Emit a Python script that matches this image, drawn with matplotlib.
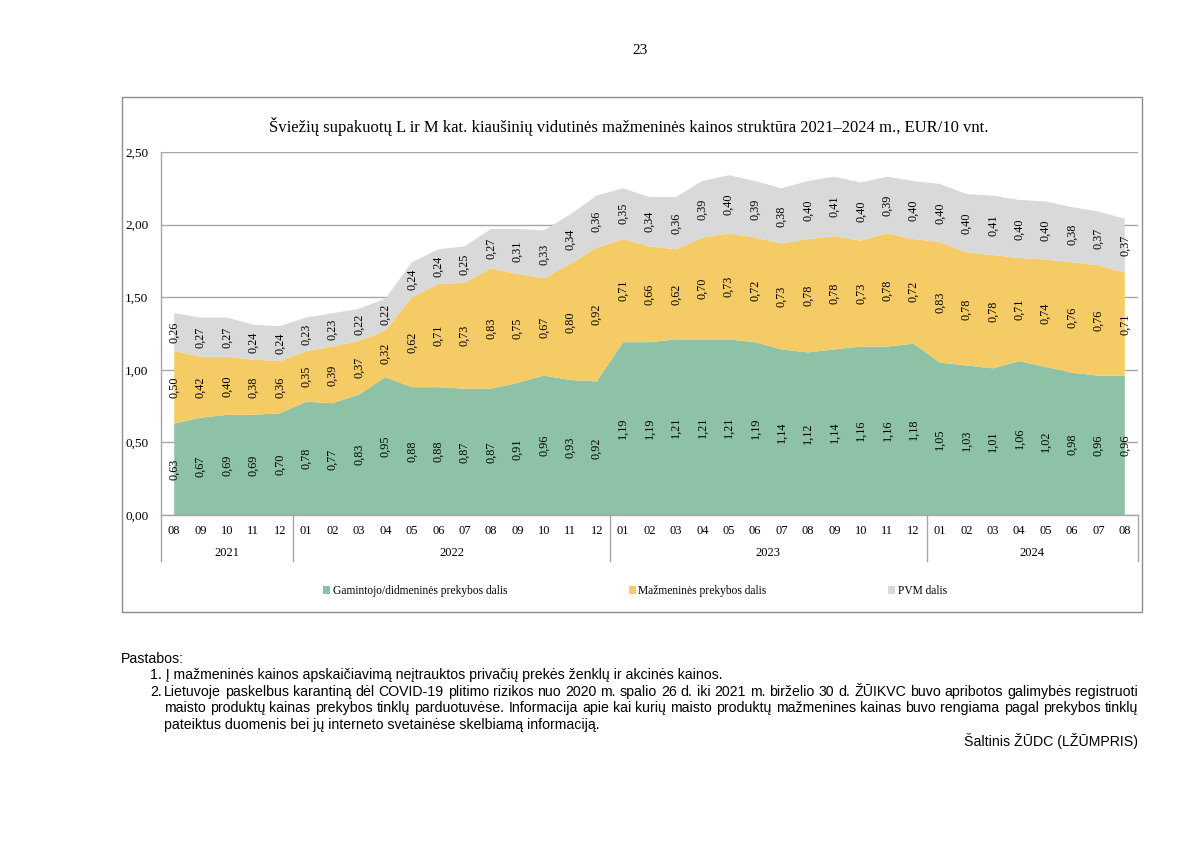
import matplotlib.pyplot as plt
from matplotlib.patches import Rectangle
from matplotlib.lines import Line2D
import numpy as np

# data
months = ['08', '09', '10', '11', '12',
          '01', '02', '03', '04', '05', '06', '07', '08', '09', '10', '11', '12',
          '01', '02', '03', '04', '05', '06', '07', '08', '09', '10', '11', '12',
          '01', '02', '03', '04', '05', '06', '07', '08']
years = ['2021', '2022', '2023', '2024']
year_len = [5, 12, 12, 8]

gamintojo = [0.63, 0.67, 0.69, 0.69, 0.70,
             0.78, 0.77, 0.83, 0.95, 0.88, 0.88, 0.87, 0.87, 0.91, 0.96, 0.93, 0.92,
             1.19, 1.19, 1.21, 1.21, 1.21, 1.19, 1.14, 1.12, 1.14, 1.16, 1.16, 1.18,
             1.05, 1.03, 1.01, 1.06, 1.02, 0.98, 0.96, 0.96]
mazmenines = [0.50, 0.42, 0.40, 0.38, 0.36,
              0.35, 0.39, 0.37, 0.32, 0.62, 0.71, 0.73, 0.83, 0.75, 0.67, 0.80, 0.92,
              0.71, 0.66, 0.62, 0.70, 0.73, 0.72, 0.73, 0.78, 0.78, 0.73, 0.78, 0.72,
              0.83, 0.78, 0.78, 0.71, 0.74, 0.76, 0.76, 0.71]
pvm = [0.26, 0.27, 0.27, 0.24, 0.24,
       0.23, 0.23, 0.22, 0.22, 0.24, 0.24, 0.25, 0.27, 0.31, 0.33, 0.34, 0.36,
       0.35, 0.34, 0.36, 0.39, 0.40, 0.39, 0.38, 0.40, 0.41, 0.40, 0.39, 0.40,
       0.40, 0.40, 0.41, 0.40, 0.40, 0.38, 0.37, 0.37]

names = ['Gamintojo/didmeninės prekybos dalis', 'Mažmeninės prekybos dalis', 'PVM dalis']
colors = ['#8DC2A7', '#F5CB65', '#D9D9D9']

serif = 'Liberation Serif'
sans = 'Liberation Sans'

W, H = 1200, 849
fig = plt.figure(figsize=(W/100, H/100), dpi=100)
fig.patch.set_facecolor('white')

L, R, T, B = 161, 1138, 152, 515
ax = fig.add_axes([L/W, 1-B/H, (R-L)/W, (B-T)/H])

x = np.arange(len(months))
series = [np.array(gamintojo), np.array(mazmenines), np.array(pvm)]
ax.stackplot(x, *series, colors=colors, labels=names, zorder=2, linewidth=0)

ax.set_xlim(-0.5, len(months)-0.5)
ax.set_ylim(0, 2.5)
ax.set_yticks(np.arange(0, 2.51, 0.5))
ax.set_yticklabels([('%.2f' % v).replace('.', ',') for v in np.arange(0, 2.51, 0.5)],
                   family=serif, fontsize=9.5)
ax.tick_params(axis='y', length=0, pad=9)
ax.set_xticks([])
ax.yaxis.grid(True, color='#A6A6A6', lw=1, zorder=0)
ax.set_axisbelow(True)
for s in ['top', 'right']:
    ax.spines[s].set_visible(False)
for s in ['left', 'bottom']:
    ax.spines[s].set_color('#A6A6A6')
    ax.spines[s].set_linewidth(1)

# value labels in the middle of each band
bottom = np.zeros(len(months))
for vals in series:
    for i, v in enumerate(vals):
        ax.text(i, bottom[i] + v/2, ('%.2f' % v).replace('.', ','), rotation=90,
                ha='center', va='center', family=serif, fontsize=8.7, zorder=5)
    bottom = bottom + vals

# two level category axis
trans = ax.get_xaxis_transform()
hpx = B - T
for i, m in enumerate(months):
    ax.text(i, -16/hpx, m, transform=trans, ha='center', va='center',
            family=serif, fontsize=9, clip_on=False)
start = 0
bounds = [-0.5]
for yname, n in zip(years, year_len):
    ax.text(start + (n-1)/2, -38/hpx, yname, transform=trans, ha='center', va='center',
            family=serif, fontsize=9, clip_on=False)
    start += n
    bounds.append(start - 0.5)
for b in bounds:
    ax.add_line(Line2D([b, b], [0, -46/hpx], transform=trans, color='#A6A6A6',
                       lw=1, clip_on=False))

# chart frame and title
fig.patches.append(Rectangle((122/W, 1-612/H), (1142-122)/W, (612-97)/H,
                             transform=fig.transFigure, fill=False,
                             edgecolor='#8C8C8C', lw=1))
fig.text(629/W, 1-127/H,
         'Šviežių supakuotų L ir M kat. kiaušinių vidutinės mažmeninės kainos struktūra 2021–2024 m., EUR/10 vnt.',
         ha='center', va='center', family=serif, fontsize=12)
fig.text(640/W, 1-51/H, '23', ha='center', va='center', family=serif, fontsize=11)

fig.legend(loc='center', bbox_to_anchor=(635/W, 1-591/H), ncol=3, frameon=False,
           prop={'family': serif, 'size': 8.3}, handlelength=0.6, handleheight=0.6,
           handletextpad=0.25, columnspacing=10.5)

# notes
fs = 10.2
fig.text(121/W, 1-659/H, 'Pastabos:', ha='left', va='center', family=sans, fontsize=fs)
fig.text(150/W, 1-675/H,
         '1. Į mažmeninės kainos apskaičiavimą neįtrauktos privačių prekės ženklų ir akcinės kainos.',
         ha='left', va='center', family=sans, fontsize=fs)
fig.text(150/W, 1-692/H, '2.', ha='left', va='center', family=sans, fontsize=fs)

note_lines = [
    'Lietuvoje paskelbus karantiną dėl COVID-19 plitimo rizikos nuo 2020 m. spalio 26 d. iki 2021 m. birželio 30 d. ŽŪIKVC buvo apribotos galimybės registruoti',
    'maisto produktų kainas prekybos tinklų parduotuvėse. Informacija apie kai kurių maisto produktų mažmenines kainas buvo rengiama pagal prekybos tinklų',
]
last_line = 'pateiktus duomenis bei jų interneto svetainėse skelbiamą informaciją.'

fig.canvas.draw()
renderer = fig.canvas.get_renderer()


def justify(line, x0, x1, ypx):
    words = line.split(' ')
    objs = [fig.text(0, 1-ypx/H, w, ha='left', va='center', family=sans, fontsize=fs)
            for w in words]
    widths = [o.get_window_extent(renderer).width for o in objs]
    gap = ((x1 - x0) - sum(widths)) / (len(words) - 1)
    xp = x0
    for o, w in zip(objs, widths):
        o.set_x(xp/W)
        xp += w + gap


justify(note_lines[0], 164, 1138, 692)
justify(note_lines[1], 164, 1138, 708)
fig.text(164/W, 1-725/H, last_line, ha='left', va='center', family=sans, fontsize=fs)
fig.text(1138/W, 1-741/H, 'Šaltinis ŽŪDC (LŽŪMPRIS)', ha='right', va='center',
         family=sans, fontsize=fs)

fig.savefig('out.png', dpi=100)
